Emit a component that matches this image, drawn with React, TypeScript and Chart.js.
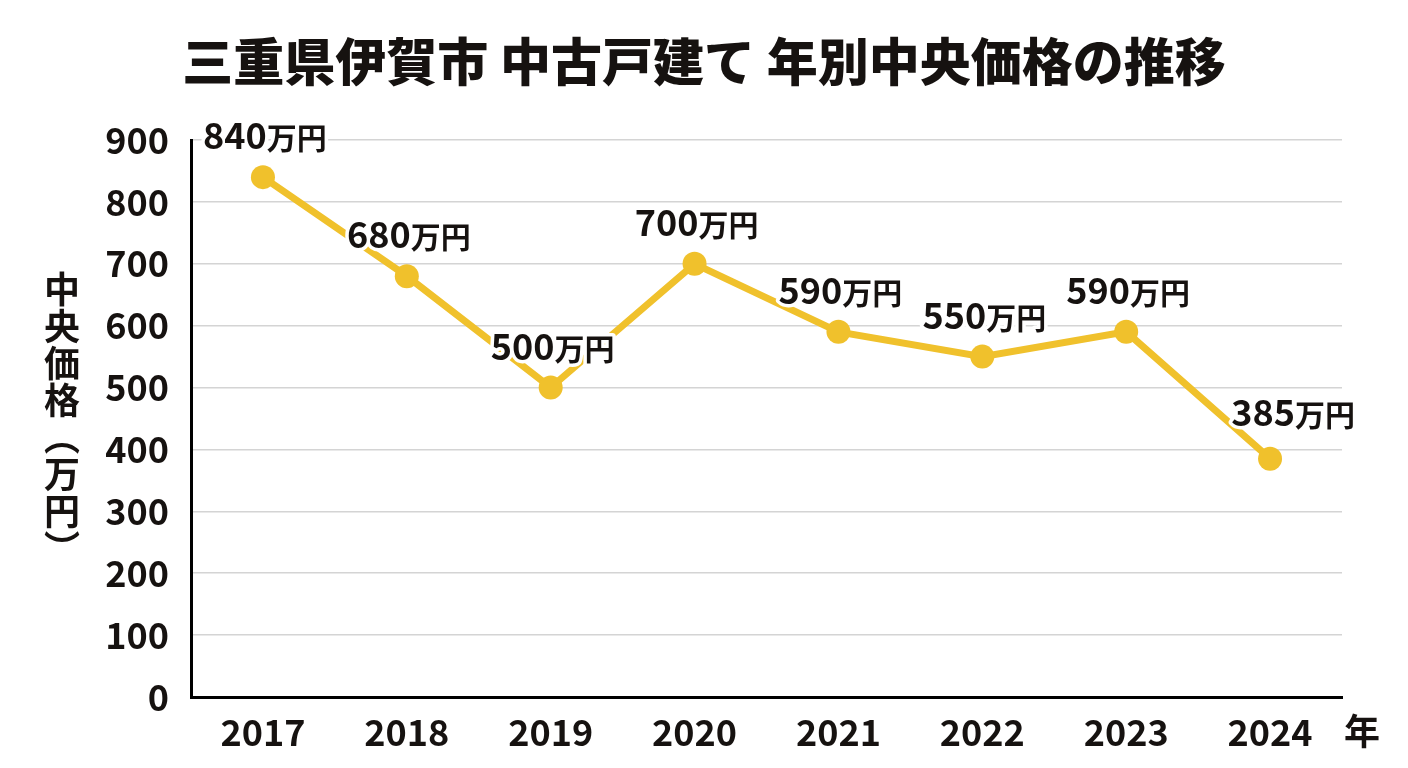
import React, { useEffect, useRef } from 'react';
import Chart from 'chart.js/auto';

const years = ['2017', '2018', '2019', '2020', '2021', '2022', '2023', '2024'];
const medianPrices = [840, 680, 500, 700, 590, 550, 590, 385];
const yMin = 0;
const yMax = 900;
const yStep = 100;
const chartTitle = '三重県伊賀市 中古戸建て 年別中央価格の推移';
const yAxisTitleChars = ['中', '央', '価', '格', '︵', '万', '円', '︶'];
const xAxisUnit = '年';
const valueUnit = '万円';

// small nudges so a label doesn't sit on the line
const labelShiftX = [2, 2, 2, 2, 2, 2, 2, 23];
const labelShiftY = [0, 0, 0, 0, 0, 0, 0, -5];

const FONT = '"Noto Sans CJK JP", "Noto Sans", sans-serif';
const LINE_COLOR = '#F0C12C';
const TEXT_COLOR = '#161210';

const extraText = {
  id: 'extraText',
  afterDatasetsDraw(chart: any) {
    const ctx = chart.ctx;
    const meta = chart.getDatasetMeta(0);
    ctx.save();
    meta.data.forEach((pt: any, i: number) => {
      const num = String(medianPrices[i]);
      ctx.font = `bold 36px ${FONT}`;
      const w1 = ctx.measureText(num).width;
      ctx.font = `bold 30px ${FONT}`;
      const w2 = ctx.measureText(valueUnit).width;
      const x0 = pt.x - (w1 + w2) / 2 + labelShiftX[i];
      const y0 = pt.y - 28 + labelShiftY[i];
      ctx.textAlign = 'left';
      ctx.textBaseline = 'alphabetic';
      ctx.lineJoin = 'round';
      ctx.lineWidth = 7;
      ctx.strokeStyle = '#ffffff';
      ctx.fillStyle = TEXT_COLOR;
      ctx.font = `bold 36px ${FONT}`;
      ctx.strokeText(num, x0, y0);
      ctx.font = `bold 30px ${FONT}`;
      ctx.strokeText(valueUnit, x0 + w1, y0);
      ctx.font = `bold 36px ${FONT}`;
      ctx.fillText(num, x0, y0);
      ctx.font = `bold 30px ${FONT}`;
      ctx.fillText(valueUnit, x0 + w1, y0);
    });
    ctx.restore();
  },
  afterDraw(chart: any) {
    const ctx = chart.ctx;
    ctx.save();
    ctx.fillStyle = TEXT_COLOR;
    ctx.textAlign = 'center';
    ctx.textBaseline = 'middle';
    ctx.font = `900 51px ${FONT}`;
    ctx.fillText(chartTitle, chart.width / 2, 62);
    ctx.font = `bold 36px ${FONT}`;
    yAxisTitleChars.forEach((c, i) => {
      ctx.fillText(c, 62, 289 + i * 37);
    });
    ctx.fillText(xAxisUnit, chart.chartArea.right + 20, 731);
    ctx.restore();
  },
};

export default function App() {
  const canvasRef = useRef<HTMLCanvasElement>(null);
  const chartRef = useRef<Chart | null>(null);

  useEffect(() => {
    if (!canvasRef.current) return;
    if (chartRef.current) chartRef.current.destroy();
    const ctx = canvasRef.current.getContext('2d');
    if (!ctx) return;

    chartRef.current = new Chart(ctx, {
      type: 'line',
      data: {
        labels: years,
        datasets: [
          {
            data: medianPrices,
            borderColor: LINE_COLOR,
            backgroundColor: LINE_COLOR,
            borderWidth: 7,
            pointRadius: 12,
            pointBackgroundColor: LINE_COLOR,
            pointBorderWidth: 0,
            tension: 0,
          },
        ],
      },
      options: {
        animation: false,
        responsive: true,
        maintainAspectRatio: false,
        layout: { padding: { left: 0, right: 66, top: 140, bottom: 0 } },
        plugins: {
          legend: { display: false },
          tooltip: { enabled: false },
          title: { display: false },
        },
        scales: {
          x: {
            offset: true,
            grid: { display: false, drawTicks: false },
            border: { display: true, color: '#000000', width: 3 },
            ticks: {
              color: TEXT_COLOR,
              font: { family: FONT, size: 36, weight: 'bold' },
              padding: 14,
              maxRotation: 0,
            },
            afterFit: (s: any) => {
              s.height = 71;
            },
          },
          y: {
            min: yMin,
            max: yMax,
            grid: { color: '#d4d4d4', lineWidth: 1.5, drawTicks: false },
            border: { display: true, color: '#000000', width: 3 },
            ticks: {
              stepSize: yStep,
              color: TEXT_COLOR,
              font: { family: FONT, size: 36, weight: 'bold' },
              padding: 22,
            },
            afterFit: (s: any) => {
              s.width = 191;
            },
          },
        },
      },
      plugins: [extraText],
    });

    return () => {
      if (chartRef.current) {
        chartRef.current.destroy();
        chartRef.current = null;
      }
    };
  }, []);

  return (
    <div style={{ position: 'fixed', left: 0, top: 0, width: 1408, height: 768, background: '#fff' }}>
      <canvas ref={canvasRef}></canvas>
    </div>
  );
}
